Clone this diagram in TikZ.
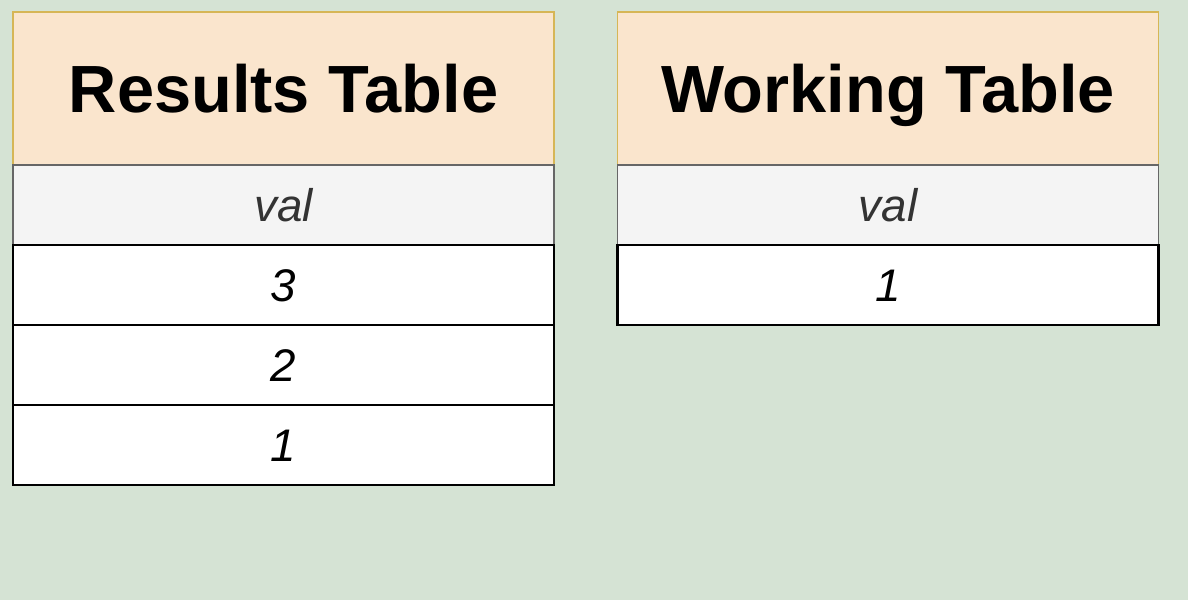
\documentclass[tikz,border=0pt]{standalone}
\usepackage{fontspec}
\setmainfont{Liberation Sans}
\usetikzlibrary{positioning}
\definecolor{bggreen}{HTML}{D5E3D4}
\definecolor{headfill}{HTML}{FAE5CD}
\definecolor{headline}{HTML}{D6B656}
\definecolor{colfill}{HTML}{F4F4F4}
\definecolor{colline}{HTML}{666666}
\definecolor{coltext}{HTML}{333333}
\tikzset{
	cell/.style={inner sep=0pt, outer sep=0pt, minimum width=10.82cm, text depth=0pt},
	headcell/.style={cell, draw=headline, fill=headfill, line width=1.1pt,
		minimum height=3.06cm, text height=27.4pt,
		font=\fontsize{38}{40}\selectfont\bfseries},
	colcell/.style={cell, draw=colline, fill=colfill, line width=1.1pt,
		minimum height=1.6cm, text height=18.7pt, text=coltext,
		font=\fontsize{26}{30}\selectfont\itshape},
	valcell/.style={cell, draw=black, fill=white, line width=1.3pt,
		minimum height=1.6cm, text height=18.7pt,
		font=\fontsize{26}{30}\selectfont\itshape}
}
\begin{document}
\begin{tikzpicture}
	\fill[bggreen] (0, 0) rectangle (23.76, -12);
	% results table
	\node[headcell] (reshead) at (5.67, -1.77) {Results Table};
	\node[colcell, below=0pt of reshead] (rescol) {val};
	\foreach \v [count=\i] in {3, 2, 1}
		\node[valcell] (res\i) at (5.67, {-(4.1+1.6*\i)}) {\v};
	% working table
	\node[headcell] (workhead) at (17.76, -1.77) {Working Table};
	\node[colcell, below=0pt of workhead] (workcol) {val};
	\node[valcell, below=0pt of workcol] (work1) {1};
\end{tikzpicture}
\end{document}
